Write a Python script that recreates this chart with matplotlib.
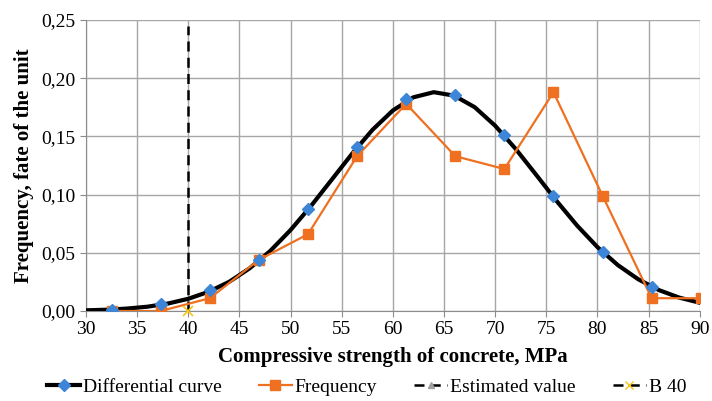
import matplotlib
matplotlib.use("Agg")
import matplotlib.pyplot as plt
from matplotlib.lines import Line2D
from matplotlib.ticker import FuncFormatter, MultipleLocator

plt.rcParams['font.family'] = ['Liberation Serif', 'DejaVu Serif']

# Bin centres (MPa)
bins = [32.5, 37.3, 42.1, 46.9, 51.7, 56.5, 61.3, 66.1, 70.9, 75.7, 80.5, 85.3]
# Differential curve values at the bin centres
diff_vals = [0.001, 0.006, 0.018, 0.044, 0.088, 0.141, 0.182, 0.186, 0.151, 0.099, 0.051, 0.021]
# Observed frequency (last point continues to the right edge)
freq_x = [32.5, 37.3, 42.1, 46.9, 51.7, 56.5, 61.3, 66.1, 70.9, 75.7, 80.5, 85.3, 90.1]
freq_vals = [0.000, 0.000, 0.011, 0.044, 0.066, 0.133, 0.178, 0.133, 0.122, 0.188, 0.099, 0.011, 0.011]

# Smooth differential curve every 2 MPa
curve_x = list(range(30, 92, 2))
curve_y = [0.0006, 0.0011, 0.0021, 0.0037, 0.0064, 0.0105, 0.0166, 0.0251, 0.0367,
           0.0515, 0.0696, 0.0903, 0.1126, 0.1350, 0.1556, 0.1723, 0.1836, 0.1880,
           0.1850, 0.1751, 0.1592, 0.1393, 0.1171, 0.0946, 0.0735, 0.0549, 0.0394,
           0.0272, 0.0180, 0.0115, 0.0071]

# Estimated value (B 40)
est_x = [40, 40]
est_y = [0.0, 0.245]

blue = '#3d85d6'
orange = '#ee7020'
dash = (0, (4, 2.5))

fig = plt.figure(figsize=(7.12, 4.01), dpi=100)
ax = fig.add_axes([0.1208, 0.2244, 0.862, 0.7257])

ax.plot(curve_x, curve_y, color='black', lw=3, zorder=3, solid_joinstyle='round')
ax.plot(bins, diff_vals, ls='none', marker='D', ms=6, color=blue, zorder=5)
ax.plot(freq_x, freq_vals, color=orange, lw=1.6, marker='s', ms=7, zorder=4)
ax.plot(est_x, est_y, color='black', lw=1.8, ls=dash, zorder=3)
ax.plot([40], [0.0], ls='none', marker='x', color='#f5c518', ms=7, mew=1.2, zorder=6, clip_on=False)

ax.set_xlim(30, 90)
ax.set_ylim(0, 0.25)
ax.xaxis.set_major_locator(MultipleLocator(5))
ax.yaxis.set_major_locator(MultipleLocator(0.05))
ax.yaxis.set_major_formatter(FuncFormatter(lambda v, p: f"{v:.2f}".replace('.', ',')))

ax.grid(True, color='#a6a6a6', lw=1)
ax.set_axisbelow(True)
for side in ['top', 'right']:
    ax.spines[side].set_visible(False)
for side in ['left', 'bottom']:
    ax.spines[side].set_color('#8c8c8c')
ax.tick_params(axis='both', colors='#8c8c8c', labelcolor='black', labelsize=14, length=4)

ax.set_xlabel("Compressive strength of concrete, MPa", fontsize=15, fontweight='bold', labelpad=6)
ax.set_ylabel("Frequency, fate of the unit", fontsize=15, fontweight='bold', labelpad=5)

handles = [
    Line2D([], [], color='black', lw=3, marker='D', ms=6, mfc=blue, mec=blue),
    Line2D([], [], color=orange, lw=1.6, marker='s', ms=7),
    Line2D([], [], color='black', lw=1.8, ls=dash, marker='^', ms=5, mfc='#a0a0a0', mec='#a0a0a0'),
    Line2D([], [], color='black', lw=1.8, ls=dash, marker='x', ms=6, mec='#f5c518'),
]
labels = ["Differential curve", "Frequency", "Estimated value", "B 40"]
fig.legend(handles, labels, loc='center', bbox_to_anchor=(0.515, 0.035), ncol=4, frameon=False,
           fontsize=14, handlelength=1.7, columnspacing=1.9, handletextpad=0.15)

fig.savefig("out.png", dpi=100)
